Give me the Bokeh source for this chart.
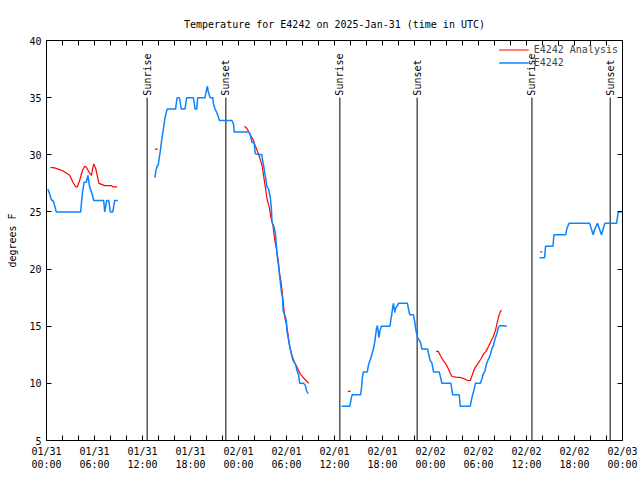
import math
from bokeh.plotting import figure
from bokeh.models import FixedTicker, LinearAxis, Range1d, Legend, LegendItem
from bokeh.embed import file_html
from bokeh.resources import INLINE
from bokeh.core.properties import value

NAN = float("nan")
FONT = "DejaVu Sans Mono"

# hours since 2025-01-31 00:00 UTC ; NAN marks a gap
obs_hours = [
    0.16, 0.38, 0.59, 0.88, 1.22, 4.27, 4.48, 4.70, 4.98, 5.18, 5.39, 5.73, 5.90,
    7.15, 7.28, 7.53, 7.78, 7.97, 8.28, 8.53, 8.91, NAN,
    13.55, 13.67, 13.84, 13.96, 14.09, 14.26, 14.39, 14.51, 14.68, 14.80, 14.93, 15.09,
    16.14, 16.27, 16.34, 16.60, 16.68, 16.85, 17.31, 17.52, 18.35, 18.48, 18.57, 18.78,
    18.90, 19.82, 19.95, 20.11, 20.23, 20.45, 20.79, 20.86, 21.07, 21.29, 21.49, 21.61,
    23.17, 23.37, 23.46, 25.25, 25.46, 25.68, 25.97, 26.09, 26.93, 27.01, 27.13, 27.26,
    27.43, 27.56, 27.76, 27.97, 28.10, 28.19, 28.39, 28.60, 28.73, 28.81, 29.01, 29.14,
    29.35, 29.52, 29.57, 29.77, 29.98, 30.07, 30.27, 30.48, 30.70, 30.82, 31.11, 31.32,
    31.52, 31.65, 32.15, 32.36, 32.49, 32.70, NAN,
    36.88, 37.92, 38.10, 38.22, 39.26, 39.39, 39.48, 39.60, 40.10, 40.23, 40.39, 40.52,
    40.73, 40.86, 41.06, 41.23, 41.36, 41.56, 41.68, 41.86, 42.94, 43.03, 43.15, 43.28,
    43.37, 43.53, 43.65, 43.87, 43.99, 45.12, 45.25, 45.41, 45.87, 46.04, 46.16, 46.29,
    46.38, 46.58, 46.79, 46.91, 47.63, 47.83, 47.96, 48.17, 48.38, 49.09, 49.30, 49.42,
    50.55, 50.68, 50.77, 51.59, 51.72, 52.97, 53.15, 53.27, 53.47, 53.60, 54.23, 54.44,
    54.60, 54.82, 54.94, 55.16, 55.44, 55.66, 55.86, 56.07, 56.28, 56.49, 56.70, 57.54, NAN,
    61.63, 62.26, 62.38, 63.31, 63.43, 64.89, 65.07, 65.32, 67.90, 68.11, 68.33, 68.53,
    68.87, 69.08, 69.37, 69.58, 69.79, 71.26, 71.47, 72.0,
]
obs_temp = [
    27.0, 26.6, 26.1, 25.9, 25.0, 25.0, 26.6, 27.6, 27.6, 28.2, 27.2, 26.5, 26.0,
    26.0, 25.0, 26.0, 26.0, 25.0, 25.0, 26.0, 26.0, NAN,
    28.0, 28.6, 29.0, 29.1, 29.7, 30.5, 31.25, 31.8, 32.6, 33.15, 33.6, 34.0,
    34.0, 34.75, 35.0, 35.0, 34.75, 34.0, 34.0, 35.0, 35.0, 34.5, 34.0, 34.0,
    35.0, 35.0, 35.5, 36.0, 35.5, 35.0, 35.0, 34.5, 34.0, 33.7, 33.3, 33.0,
    33.0, 32.7, 32.0, 32.0, 31.8, 31.1, 31.0, 30.1, 30.0, 29.5, 29.1, 28.5,
    27.8, 27.2, 27.0, 26.3, 25.4, 24.1, 23.8, 23.2, 22.1, 21.3, 20.2, 19.4,
    18.1, 17.4, 16.4, 16.0, 15.5, 14.5, 13.75, 13.0, 12.3, 12.0, 11.7, 11.1,
    10.7, 10.0, 10.0, 9.8, 9.4, 9.1, NAN,
    8.0, 8.0, 8.74, 9.0, 9.0, 9.66, 10.5, 11.0, 11.0, 11.56, 11.94, 12.15,
    12.7, 13.0, 13.75, 14.7, 15.06, 14.0, 14.6, 15.0, 15.0, 15.5, 16.0, 16.7,
    17.0, 16.2, 16.6, 16.8, 17.0, 17.0, 16.5, 16.0, 16.0, 15.35, 14.7, 14.3,
    14.0, 13.8, 13.5, 13.0, 13.0, 12.4, 12.0, 11.8, 11.0, 11.0, 10.4, 10.0,
    10.0, 9.4, 9.0, 9.0, 8.0, 8.0, 8.65, 9.0, 9.5, 10.0, 10.0, 10.4,
    10.84, 11.1, 11.56, 12.0, 12.4, 13.0, 13.3, 13.9, 14.3, 14.9, 15.06, 15.0, NAN,
    21.0, 21.0, 22.0, 22.0, 23.0, 23.0, 23.6, 24.0, 24.0, 23.5, 23.0, 23.5,
    24.0, 23.6, 23.0, 23.5, 24.0, 24.0, 25.0, 25.0,
]

ana_hours = [
    0.50, 1.00, 1.63, 2.04, 2.47, 2.89, 3.30, 3.64, 3.85, 4.14, 4.48, 4.77, 4.98,
    5.39, 5.61, 5.90, 6.15, 6.56, 7.28, 8.12, 8.28, 8.82, NAN,
    13.55, 13.90, NAN,
    24.75, 25.05, 25.25, 25.59, 25.88, 26.09, 26.43, 26.63, 26.93, 27.13, 27.35, 27.56,
    27.85, 28.06, 28.31, 28.51, 28.81, 29.01, 29.14, 29.35, 29.57, 29.77, 29.98, 30.19,
    30.39, 30.70, 30.98, 31.32, 31.74, 32.24, 32.78, NAN,
    37.67, 38.01, NAN,
    48.71, 48.96, 49.30, 49.64, 49.93, 50.21, 50.46, 50.68, 51.18, 51.81, 52.22, 52.65,
    52.97, 53.27, 53.56, 53.90, 54.32, 54.65, 54.94, 55.23, 55.57, 55.86, 56.11, 56.32,
    56.54, 56.74, 56.91, NAN,
    61.72, 61.97,
]
ana_temp = [
    28.9, 28.85, 28.7, 28.6, 28.4, 28.2, 27.6, 27.2, 27.2, 27.75, 28.6, 29.0, 28.9,
    28.4, 28.2, 29.2, 28.8, 27.5, 27.3, 27.3, 27.2, 27.2, NAN,
    30.5, 30.5, NAN,
    32.5, 32.3, 32.06, 31.6, 31.25, 30.8, 30.2, 29.8, 29.1, 28.2, 27.2, 26.15,
    25.4, 24.5, 23.8, 22.65, 21.5, 20.5, 19.6, 18.7, 17.25, 15.8, 15.2, 14.3,
    13.2, 12.4, 11.85, 11.4, 10.8, 10.4, 10.0, NAN,
    9.3, 9.3, NAN,
    12.8, 12.8, 12.35, 11.95, 11.7, 11.3, 10.9, 10.6, 10.55, 10.5, 10.4, 10.25,
    10.25, 10.84, 11.36, 11.7, 12.15, 12.6, 12.8, 13.2, 13.7, 14.1, 14.6, 15.27,
    15.9, 16.3, 16.4, NAN,
    21.5, 21.5,
]

sun_hours = [12.58, 22.42, 36.67, 46.33, 60.68, 70.46]
sun_labels = ["Sunrise", "Sunset", "Sunrise", "Sunset", "Sunrise", "Sunset"]
sun_low = 5
sun_high = 35

x_tick_hours = list(range(0, 73, 2))
x_label_hours = list(range(0, 73, 6))
x_labels = ["01/31\n00:00", "01/31\n06:00", "01/31\n12:00", "01/31\n18:00",
            "02/01\n00:00", "02/01\n06:00", "02/01\n12:00", "02/01\n18:00",
            "02/02\n00:00", "02/02\n06:00", "02/02\n12:00", "02/02\n18:00",
            "02/03\n00:00"]
y_ticks = [5, 10, 15, 20, 25, 30, 35, 40]

p = figure(width=640, height=480, output_backend="svg", toolbar_location=None,
           x_range=Range1d(0, 72), y_range=Range1d(5, 40),
           min_border_left=46, min_border_right=18, min_border_top=40, min_border_bottom=40,
           title="Temperature for E4242 on 2025-Jan-31 (time in UTC)")
p.title.text_font = FONT
p.title.text_font_size = "10px"
p.title.text_font_style = "normal"
p.title.text_color = "black"
p.title.align = "center"
p.title.standoff = 22
p.outline_line_color = "black"
p.outline_line_width = 1
p.grid.visible = False
p.background_fill_color = "white"
p.border_fill_color = "white"

overrides = {}
for h in x_tick_hours:
    overrides[h] = ""
for h, lab in zip(x_label_hours, x_labels):
    overrides[h] = lab

def style_axis(ax, labels=True):
    ax.axis_line_color = None
    ax.major_tick_in = 5
    ax.major_tick_out = 0
    ax.major_tick_line_color = "black"
    ax.minor_tick_line_color = None
    ax.major_label_text_font = FONT
    ax.major_label_text_font_size = "10px"
    ax.major_label_text_color = "black"
    ax.major_label_standoff = 5
    if not labels:
        ax.major_label_text_alpha = 0
        ax.major_label_text_font_size = "1px"
        ax.major_label_standoff = 0

xb = p.xaxis[0]
xb.ticker = FixedTicker(ticks=x_tick_hours)
xb.major_label_overrides = overrides
style_axis(xb)
yl = p.yaxis[0]
yl.ticker = FixedTicker(ticks=y_ticks)
style_axis(yl)
yl.axis_label = "degrees F"
yl.axis_label_text_font = FONT
yl.axis_label_text_font_size = "10px"
yl.axis_label_text_font_style = "normal"
yl.axis_label_text_color = "black"
yl.axis_label_standoff = 8

xt = LinearAxis(ticker=FixedTicker(ticks=x_tick_hours))
style_axis(xt, labels=False)
p.add_layout(xt, "above")
yr = LinearAxis(ticker=FixedTicker(ticks=y_ticks))
style_axis(yr, labels=False)
p.add_layout(yr, "right")

# sunrise / sunset markers
p.segment(x0=sun_hours, y0=[sun_low] * len(sun_hours), x1=sun_hours,
          y1=[sun_high] * len(sun_hours), line_color="black", line_width=1)
p.text(x=sun_hours, y=[sun_high] * len(sun_hours), text=sun_labels, angle=math.pi / 2,
       text_align="left", text_baseline="middle", text_font=value(FONT),
       text_font_size="10px", text_color="black", x_offset=0, y_offset=-2)

r_ana = p.line(ana_hours, ana_temp, line_color="#ff0000", line_width=1.2)
r_obs = p.line(obs_hours, obs_temp, line_color="#0a84ff", line_width=1.5)

legend = Legend(items=[LegendItem(label="E4242 Analysis", renderers=[r_ana]),
                       LegendItem(label="E4242", renderers=[r_obs])],
                location="top_right", border_line_color=None, background_fill_alpha=0,
                label_text_font=FONT, label_text_font_size="10px",
                glyph_width=30, glyph_height=11, label_height=11, spacing=2,
                padding=2, margin=4)
p.add_layout(legend)

open("out.html", "w").write(file_html(p, INLINE))
